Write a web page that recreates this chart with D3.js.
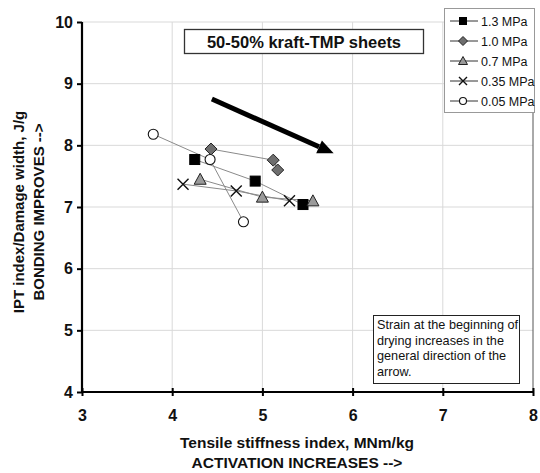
<!DOCTYPE html>
<html>
<head>
<meta charset="utf-8">
<script src="https://cdn.jsdelivr.net/npm/d3@7/dist/d3.min.js"></script>
<style>
  html, body { margin: 0; padding: 0; background: #fff; }
  svg { display: block; font-family: "Liberation Sans", Arial, sans-serif; }
</style>
</head>
<body>
<svg id="chart" width="540" height="473"></svg>
<script>
// Series: tensile stiffness index (x) vs IPT index / damage width (y)
const seriesNames = ["1.3 MPa", "1.0 MPa", "0.7 MPa", "0.35 MPa", "0.05 MPa"];
const seriesSymbols = ["square", "diamond", "triangle", "cross", "circle"];
const x13 = [4.25, 4.92, 5.45];
const y13 = [7.77, 7.42, 7.04];
const x10 = [4.43, 5.12, 5.17];
const y10 = [7.94, 7.76, 7.60];
const x07 = [4.31, 5.00, 5.56];
const y07 = [7.45, 7.16, 7.10];
const x035 = [4.12, 4.71, 5.30];
const y035 = [7.37, 7.26, 7.10];
const x005 = [3.79, 4.42, 4.79];
const y005 = [8.18, 7.77, 6.76];
const xTicks = [3, 4, 5, 6, 7, 8];
const yTicks = [4, 5, 6, 7, 8, 9, 10];
// Arrow showing the direction of increasing strain (data units)
const arrowFrom = [4.44, 8.75];
const arrowTo = [5.79, 7.87];
const noteLines = ["Strain at the beginning of", "drying increases in the", "general direction of the", "arrow."];

const seriesX = [x13, x10, x07, x035, x005];
const seriesY = [y13, y10, y07, y035, y005];
const series = seriesNames.map((name, i) => ({
  name, symbol: seriesSymbols[i],
  points: seriesX[i].map((xv, j) => ({ x: xv, y: seriesY[i][j] }))
}));

const svg = d3.select("#chart");
const plotL = 82, plotR = 533, plotT = 22, plotB = 392;
const x = d3.scaleLinear().domain([3, 8]).range([plotL, plotR]);
const y = d3.scaleLinear().domain([4, 10]).range([plotB, plotT]);

// Gridlines
svg.append("g").selectAll("line").data(yTicks.slice(1)).join("line")
  .attr("x1", plotL).attr("x2", plotR).attr("y1", d => y(d)).attr("y2", d => y(d))
  .attr("stroke", "#d9d9d9").attr("stroke-width", 1);
svg.append("g").selectAll("line").data(xTicks.slice(1)).join("line")
  .attr("x1", d => x(d)).attr("x2", d => x(d)).attr("y1", plotT).attr("y2", plotB)
  .attr("stroke", d => d === 8 ? "#555" : "#d9d9d9").attr("stroke-width", 1);

// Axes
const xAxis = svg.append("g").attr("transform", `translate(0,${plotB})`)
  .call(d3.axisBottom(x).tickValues(xTicks).tickSize(4).tickPadding(14).tickFormat(d3.format("d")));
xAxis.selectAll(".tick line").attr("y1", -4).attr("stroke-width", 2);
const yAxis = svg.append("g").attr("transform", `translate(${plotL},0)`)
  .call(d3.axisLeft(y).tickValues(yTicks).tickSize(5).tickPadding(4).tickFormat(d3.format("d")));
yAxis.selectAll(".tick line").attr("stroke-width", 2);
[xAxis, yAxis].forEach(a => {
  a.select(".domain").attr("stroke", "#000").attr("stroke-width", 2.2);
  a.selectAll(".tick text").attr("font-size", 16).attr("font-weight", "bold")
    .attr("fill", "#111").attr("font-family", "Liberation Sans, Arial, sans-serif");
});
xAxis.select(".domain").attr("d", `M${plotL},0H${plotR}`);
yAxis.select(".domain").attr("d", `M0,${plotB}V${plotT}`);

// Axis titles
svg.append("text").attr("x", 297).attr("y", 448).attr("text-anchor", "middle")
  .attr("font-size", 15.5).attr("font-weight", "bold").attr("fill", "#111")
  .text("Tensile stiffness index, MNm/kg");
svg.append("text").attr("x", 297).attr("y", 468).attr("text-anchor", "middle")
  .attr("font-size", 15.5).attr("font-weight", "bold").attr("fill", "#111")
  .text("ACTIVATION INCREASES -->");
const yTitle = svg.append("g").attr("transform", "translate(0,212) rotate(-90)");
yTitle.append("text").attr("x", 0).attr("y", 24).attr("text-anchor", "middle")
  .attr("font-size", 15).attr("font-weight", "bold").attr("fill", "#111")
  .text("IPT index/Damage width, J/g");
yTitle.append("text").attr("x", 0).attr("y", 44).attr("text-anchor", "middle")
  .attr("font-size", 15).attr("font-weight", "bold").attr("fill", "#111")
  .text("BONDING IMPROVES -->");

// Marker drawing
function drawMarker(g, symbol, size) {
  const s = size / 2;
  if (symbol === "square") {
    g.append("rect").attr("x", -s).attr("y", -s).attr("width", size).attr("height", size)
      .attr("fill", "#000").attr("stroke", "#000");
  } else if (symbol === "diamond") {
    g.append("path").attr("d", `M0,${-s - 1}L${s + 1},0L0,${s + 1}L${-s - 1},0Z`)
      .attr("fill", "#6e6e6e").attr("stroke", "#222").attr("stroke-width", 1);
  } else if (symbol === "triangle") {
    g.append("path").attr("d", `M0,${-s - 1}L${s + 1},${s}L${-s - 1},${s}Z`)
      .attr("fill", "#9a9a9a").attr("stroke", "#222").attr("stroke-width", 1);
  } else if (symbol === "cross") {
    g.append("path").attr("d", `M${-s},${-s}L${s},${s}M${-s},${s}L${s},${-s}`)
      .attr("stroke", "#111").attr("stroke-width", 1.4).attr("fill", "none");
  } else if (symbol === "circle") {
    g.append("circle").attr("r", s).attr("fill", "#fff").attr("stroke", "#111").attr("stroke-width", 1.1);
  }
}

// Connecting lines and markers
const line = d3.line().x(d => x(d.x)).y(d => y(d.y));
series.forEach(s => {
  svg.append("path").datum(s.points).attr("d", line)
    .attr("fill", "none").attr("stroke", "#8a8a8a").attr("stroke-width", 1);
});
series.forEach(s => {
  s.points.forEach(p => {
    const g = svg.append("g").attr("transform", `translate(${x(p.x)},${y(p.y)})`);
    drawMarker(g, s.symbol, s.symbol === "cross" ? 11 : 10);
  });
});

// Arrow
const ax1 = x(arrowFrom[0]), ay1 = y(arrowFrom[1]);
const ax2 = x(arrowTo[0]), ay2 = y(arrowTo[1]);
const ang = Math.atan2(ay2 - ay1, ax2 - ax1);
const headLen = 16, headW = 7;
const bx = ax2 - headLen * Math.cos(ang), by = ay2 - headLen * Math.sin(ang);
svg.append("line").attr("x1", ax1).attr("y1", ay1).attr("x2", bx).attr("y2", by)
  .attr("stroke", "#000").attr("stroke-width", 5);
svg.append("path")
  .attr("d", `M${ax2},${ay2}L${bx + headW * Math.sin(ang)},${by - headW * Math.cos(ang)}L${bx - headW * Math.sin(ang)},${by + headW * Math.cos(ang)}Z`)
  .attr("fill", "#000");

// Title box
svg.append("rect").attr("x", 184.5).attr("y", 29.5).attr("width", 239).attr("height", 24)
  .attr("fill", "#fff").attr("stroke", "#333").attr("stroke-width", 1.3);
svg.append("text").attr("x", 304).attr("y", 47.5).attr("text-anchor", "middle")
  .attr("font-size", 16.5).attr("font-weight", "bold").attr("fill", "#111")
  .text("50-50% kraft-TMP sheets");

// Note box
svg.append("rect").attr("x", 373.5).attr("y", 315.5).attr("width", 146).attr("height", 68)
  .attr("fill", "#fff").attr("stroke", "#222").attr("stroke-width", 1);
svg.append("g").selectAll("text").data(noteLines).join("text")
  .attr("x", 377).attr("y", (d, i) => 329 + i * 15.7)
  .attr("font-size", 12.7).attr("fill", "#111").text(d => d);

// Legend
const lg = svg.append("g");
lg.append("rect").attr("x", 444.5).attr("y", 8.5).attr("width", 90).attr("height", 104)
  .attr("fill", "#fff").attr("stroke", "#999").attr("stroke-width", 1);
series.forEach((s, i) => {
  const cy = 21 + i * 20;
  lg.append("line").attr("x1", 450).attr("x2", 478).attr("y1", cy).attr("y2", cy)
    .attr("stroke", "#333").attr("stroke-width", 1);
  const g = lg.append("g").attr("transform", `translate(463,${cy})`);
  drawMarker(g, s.symbol, s.symbol === "cross" ? 8 : 7);
  lg.append("text").attr("x", 481).attr("y", cy + 4.5).attr("font-size", 12.5)
    .attr("fill", "#111").text(s.name);
});
</script>
</body>
</html>
